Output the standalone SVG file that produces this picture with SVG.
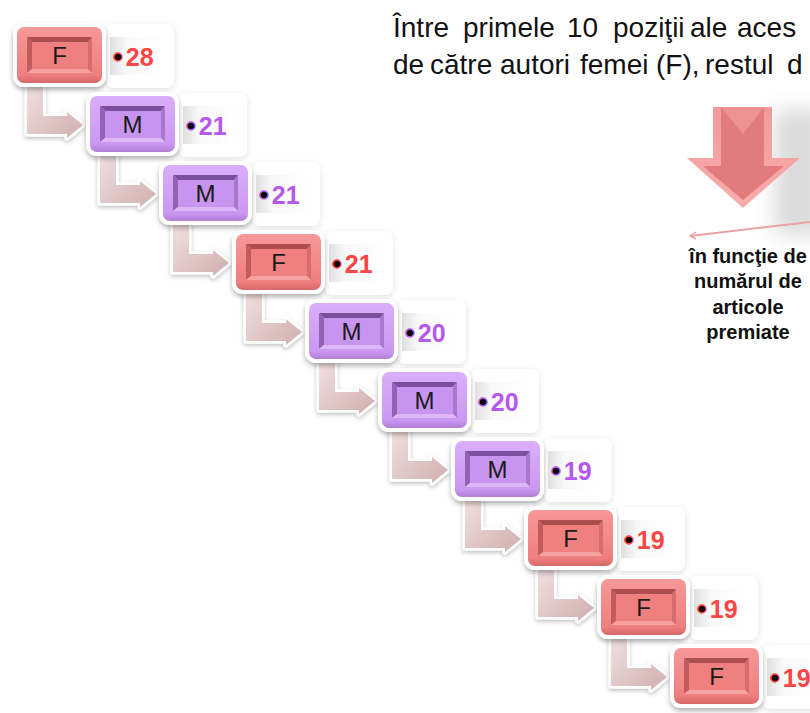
<svg xmlns="http://www.w3.org/2000/svg" xmlns:xlink="http://www.w3.org/1999/xlink" width="810" height="713" viewBox="0 0 810 713">
<style>
.lbl{font-family:"Liberation Sans",Arial,sans-serif;font-size:24px;fill:#1a1a1a;text-anchor:middle}
.num{font-family:"Liberation Sans",Arial,sans-serif;font-size:25px;font-weight:bold}
.numF{fill:#ff4545}
.numM{fill:#b558ec}
.dotF{fill:#000;stroke:#ff4545;stroke-width:1.3;font-size:28px}
.dotM{fill:#000;stroke:#b558ec;stroke-width:1.3;font-size:28px}
.conn{fill:url(#gC);stroke:#fff;stroke-width:5;stroke-linejoin:round;paint-order:stroke;filter:url(#shc)}
.para{font-family:"Liberation Sans",Arial,sans-serif;font-size:28px;fill:#111}
.side{font-family:"Liberation Sans",Arial,sans-serif;font-size:20px;font-weight:bold;fill:#111;text-anchor:middle}
</style>
<defs>
<filter id="sh" x="-20%" y="-20%" width="140%" height="150%"><feDropShadow dx="0" dy="3" stdDeviation="2.5" flood-color="#000" flood-opacity="0.3"/></filter>
<filter id="sh2" x="-20%" y="-20%" width="140%" height="150%"><feDropShadow dx="0" dy="2" stdDeviation="3" flood-color="#000" flood-opacity="0.12"/></filter>
<filter id="shc" x="-20%" y="-20%" width="140%" height="150%"><feDropShadow dx="0" dy="2" stdDeviation="2" flood-color="#000" flood-opacity="0.25"/></filter>
<filter id="blur" x="-50%" y="-50%" width="200%" height="200%"><feGaussianBlur stdDeviation="10"/></filter>
<linearGradient id="gF" x1="0" y1="0" x2="0" y2="1"><stop offset="0" stop-color="#f79898"/><stop offset="0.85" stop-color="#f07f7f"/><stop offset="1" stop-color="#d66868"/></linearGradient>
<linearGradient id="gM" x1="0" y1="0" x2="0" y2="1"><stop offset="0" stop-color="#dbaefa"/><stop offset="0.85" stop-color="#cb98f2"/><stop offset="1" stop-color="#b27ed8"/></linearGradient>
<linearGradient id="gC" x1="0" y1="0" x2="1" y2="1"><stop offset="0" stop-color="#f3e2e2"/><stop offset="1" stop-color="#cfaeae"/></linearGradient>
<linearGradient id="gP" x1="0" y1="0" x2="1" y2="0"><stop offset="0" stop-color="#e0e0e0"/><stop offset="0.3" stop-color="#f8f8f8"/><stop offset="1" stop-color="#fff"/></linearGradient>
<linearGradient id="gA" x1="0" y1="0" x2="0" y2="1"><stop offset="0" stop-color="#f39a9a"/><stop offset="1" stop-color="#f8acac"/></linearGradient>
<path id="L" d="M10,54 H26 V89 H50 V85 L66,98 L50,111 V107 H10 Z"/>
<g id="pill">
<rect x="89" y="-3" width="68" height="64" rx="8" fill="#fff" filter="url(#sh2)"/>
<rect x="93" y="10" width="53" height="38" fill="url(#gP)"/>
</g>
<g id="fbox">
<rect x="-4" y="-4" width="93" height="64" rx="11" fill="#fff" filter="url(#sh)"/>
<rect x="0" y="0" width="85" height="56" rx="7" fill="url(#gF)"/>
<polygon points="10,10 75,10 71,15 15,15" fill="#ad4e4e"/>
<polygon points="10,10 15,15 15,42 10,46" fill="#c25c5c"/>
<polygon points="75,10 75,46 71,42 71,15" fill="#d86c6c"/>
<polygon points="10,46 75,46 71,42 15,42" fill="#f7a2a2"/>
<rect x="15" y="15" width="56" height="27" fill="#f08080"/>
</g>
<g id="mbox">
<rect x="-4" y="-4" width="93" height="64" rx="11" fill="#fff" filter="url(#sh)"/>
<rect x="0" y="0" width="85" height="56" rx="7" fill="url(#gM)"/>
<polygon points="10,10 75,10 71,15 15,15" fill="#7c4e9e"/>
<polygon points="10,10 15,15 15,42 10,46" fill="#9362b5"/>
<polygon points="75,10 75,46 71,42 71,15" fill="#a878cc"/>
<polygon points="10,46 75,46 71,42 15,42" fill="#ddb8f8"/>
<rect x="15" y="15" width="56" height="27" fill="#c795ef"/>
</g>
</defs>
<rect width="810" height="713" fill="#fff"/>

<g id="intro">
<text class="para" y="37"><tspan x="393">Între </tspan><tspan x="463">primele </tspan><tspan x="567">10 </tspan><tspan x="613">poziţii </tspan><tspan x="690">ale </tspan><tspan x="737">aces</tspan></text>
<text class="para" y="74"><tspan x="393">de </tspan><tspan x="430">către </tspan><tspan x="500">autori </tspan><tspan x="580">femei </tspan><tspan x="656">(F), </tspan><tspan x="705">restul </tspan><tspan x="787">d</tspan></text>
</g>

<g id="bigArrow">
<rect x="775" y="110" width="50" height="125" fill="#888" opacity="0.3" filter="url(#blur)"/>
<path d="M713,107 H772 V158 H800 L743,208 L687,158 H713 Z" fill="url(#gA)"/>
<path d="M721,107 H764 V166 H784 L743,200 L703,166 H721 Z" fill="#e27c7c"/>
<path d="M721,107 H764 L743,134 Z" fill="#ee9292"/>
<path d="M690,236 L810,222" stroke="#e9a3a3" stroke-width="2" fill="none"/>
<path d="M696,232 L690,236 L696,239" stroke="#e9a3a3" stroke-width="1.5" fill="none"/>
</g>

<g id="sideText">
<text class="side" x="748" y="263">în funcţie de</text>
<text class="side" x="748" y="288">numărul de</text>
<text class="side" x="748" y="314">articole</text>
<text class="side" x="748" y="339">premiate</text>
</g>

<g id="connectors">
<use href="#L" class="conn" transform="translate(17,27)"/>
<use href="#L" class="conn" transform="translate(90,96)"/>
<use href="#L" class="conn" transform="translate(163,165)"/>
<use href="#L" class="conn" transform="translate(236,234)"/>
<use href="#L" class="conn" transform="translate(309,303)"/>
<use href="#L" class="conn" transform="translate(382,372)"/>
<use href="#L" class="conn" transform="translate(455,441)"/>
<use href="#L" class="conn" transform="translate(528,510)"/>
<use href="#L" class="conn" transform="translate(601,579)"/>
</g>

<g id="node1" transform="translate(17,27)"><use href="#pill"/><use href="#fbox"/><text class="lbl" x="42.5" y="37">F</text><text class="num numF" x="96" y="39"><tspan class="dotF">•</tspan><tspan dx="3">28</tspan></text></g>
<g id="node2" transform="translate(90,96)"><use href="#pill"/><use href="#mbox"/><text class="lbl" x="42.5" y="37">M</text><text class="num numM" x="96" y="39"><tspan class="dotM">•</tspan><tspan dx="3">21</tspan></text></g>
<g id="node3" transform="translate(163,165)"><use href="#pill"/><use href="#mbox"/><text class="lbl" x="42.5" y="37">M</text><text class="num numM" x="96" y="39"><tspan class="dotM">•</tspan><tspan dx="3">21</tspan></text></g>
<g id="node4" transform="translate(236,234)"><use href="#pill"/><use href="#fbox"/><text class="lbl" x="42.5" y="37">F</text><text class="num numF" x="96" y="39"><tspan class="dotF">•</tspan><tspan dx="3">21</tspan></text></g>
<g id="node5" transform="translate(309,303)"><use href="#pill"/><use href="#mbox"/><text class="lbl" x="42.5" y="37">M</text><text class="num numM" x="96" y="39"><tspan class="dotM">•</tspan><tspan dx="3">20</tspan></text></g>
<g id="node6" transform="translate(382,372)"><use href="#pill"/><use href="#mbox"/><text class="lbl" x="42.5" y="37">M</text><text class="num numM" x="96" y="39"><tspan class="dotM">•</tspan><tspan dx="3">20</tspan></text></g>
<g id="node7" transform="translate(455,441)"><use href="#pill"/><use href="#mbox"/><text class="lbl" x="42.5" y="37">M</text><text class="num numM" x="96" y="39"><tspan class="dotM">•</tspan><tspan dx="3">19</tspan></text></g>
<g id="node8" transform="translate(528,510)"><use href="#pill"/><use href="#fbox"/><text class="lbl" x="42.5" y="37">F</text><text class="num numF" x="96" y="39"><tspan class="dotF">•</tspan><tspan dx="3">19</tspan></text></g>
<g id="node9" transform="translate(601,579)"><use href="#pill"/><use href="#fbox"/><text class="lbl" x="42.5" y="37">F</text><text class="num numF" x="96" y="39"><tspan class="dotF">•</tspan><tspan dx="3">19</tspan></text></g>
<g id="node10" transform="translate(674,648)"><use href="#pill"/><use href="#fbox"/><text class="lbl" x="42.5" y="37">F</text><text class="num numF" x="96" y="39"><tspan class="dotF">•</tspan><tspan dx="3">19</tspan></text></g>
</svg>
